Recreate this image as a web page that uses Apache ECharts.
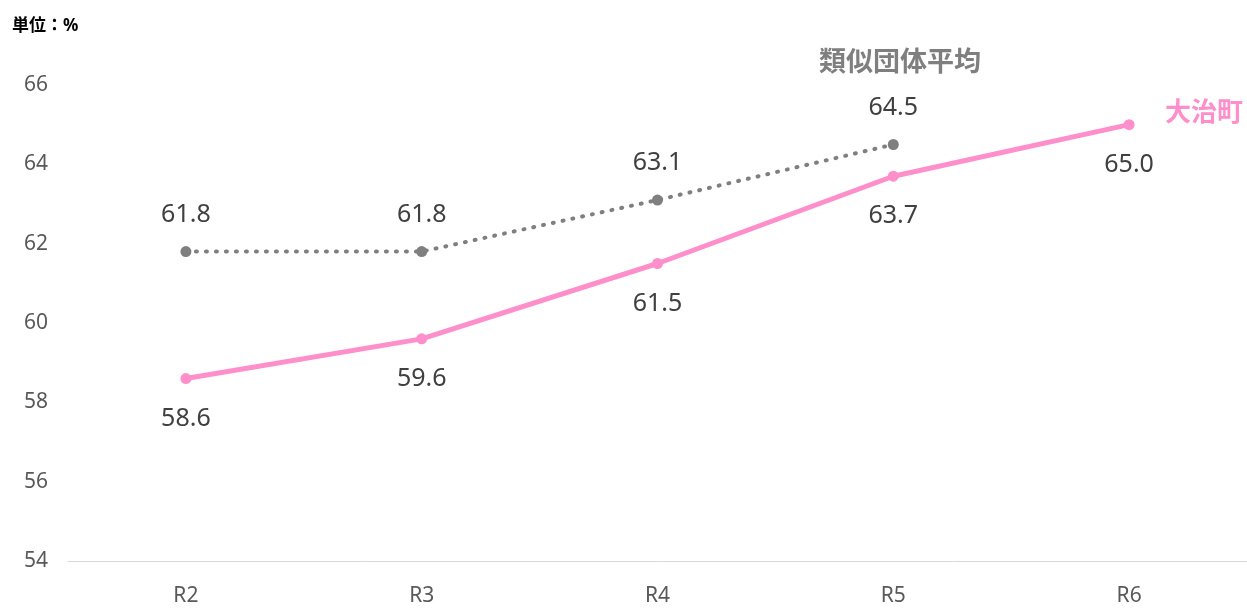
<!DOCTYPE html>
<html><head><meta charset="utf-8">
<script src="https://cdn.jsdelivr.net/npm/echarts@6/dist/echarts.min.js"></script>
<style>html,body{margin:0;padding:0;background:#fff}#c{width:1247px;height:608px}</style>
</head><body><div id="c"></div>
<script>
const categories = ['R2','R3','R4','R5','R6'];
const townValues = [58.6, 59.6, 61.5, 63.7, 65.0];
const similarValues = [61.8, 61.8, 63.1, 64.5, null];
const townName = '大治町';
const similarName = '類似団体平均';
const unitLabel = '単位：%';

const FONT = "'Noto Sans', 'Noto Sans CJK JP', sans-serif";
const chart = echarts.init(document.getElementById('c'));
chart.setOption({
  animation: false,
  grid: { left: 68, right: 0, top: 85, bottom: 47 },
  xAxis: {
    type: 'category', data: categories, boundaryGap: true,
    axisLine: { lineStyle: { color: '#d9d9d9', width: 1 } },
    axisTick: { show: false },
    axisLabel: { color: '#595959', fontSize: 21, fontFamily: FONT, margin: 25 }
  },
  yAxis: {
    type: 'value', min: 54, max: 66, interval: 2,
    splitLine: { show: false },
    axisLine: { show: false }, axisTick: { show: false },
    axisLabel: { color: '#595959', fontSize: 21, fontFamily: FONT, margin: 20 }
  },
  graphic: [
    { type: 'text', left: 12, top: 18, style: { text: unitLabel, fill: '#000', font: "bold 17px " + FONT } },
    { type: 'text', left: 819, top: 50, style: { text: similarName, fill: '#7f7f7f', font: "bold 27px " + FONT } },
    { type: 'text', left: 1165, top: 101, style: { text: townName, fill: '#ff8fcb', font: "bold 26px " + FONT } }
  ],
  series: [
    {
      name: similarName, type: 'line', data: similarValues,
      symbol: 'circle', symbolSize: 11,
      lineStyle: { color: '#7f7f7f', width: 4, type: [1, 9], cap: 'round' },
      itemStyle: { color: '#7f7f7f' },
      label: { show: true, position: 'top', distance: 19, color: '#404040', fontSize: 25, fontFamily: FONT, formatter: p => p.value.toFixed(1) }
    },
    {
      name: townName, type: 'line', data: townValues,
      symbol: 'circle', symbolSize: 11,
      lineStyle: { color: '#ff8fcb', width: 5 },
      itemStyle: { color: '#ff8fcb' },
      label: { show: true, position: 'bottom', distance: 22, color: '#404040', fontSize: 25, fontFamily: FONT, formatter: p => p.value.toFixed(1) }
    }
  ]
});
</script></body></html>
